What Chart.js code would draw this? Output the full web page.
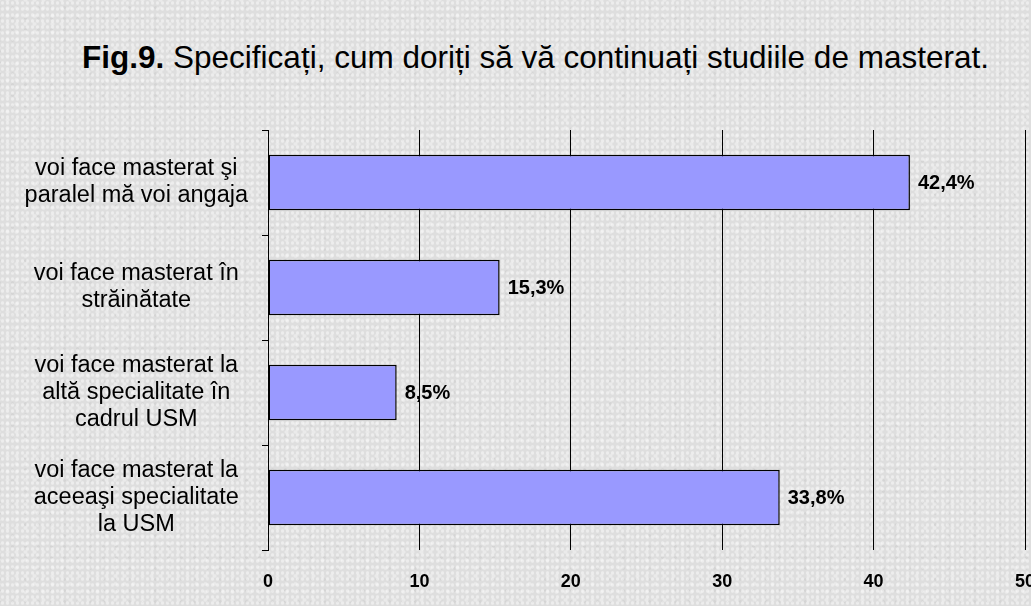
<!DOCTYPE html>
<html>
<head>
<meta charset="utf-8">
<script src="https://cdn.jsdelivr.net/npm/chart.js@4.4.1/dist/chart.umd.min.js"></script>
<style>
  html, body { margin: 0; padding: 0; overflow: hidden; }
  body {
    width: 1031px; height: 606px; position: relative;
    background-color: #dedede;
    background-image:
      radial-gradient(rgba(255,255,255,0.45) 1px, transparent 2px),
      radial-gradient(rgba(245,245,245,0.5) 1.5px, transparent 2.5px),
      radial-gradient(rgba(170,170,170,0.18) 1px, transparent 2px);
    background-size: 5px 6px, 9px 8px, 13px 11px;
    background-position: 0 0, 3px 4px, 6px 2px;
    font-family: "Liberation Sans", Arial, sans-serif;
  }
  #title {
    position: absolute; left: 0; top: 41px; width: 1071px;
    text-align: center; font-size: 31.5px; line-height: 32px; color: #000; white-space: nowrap;
  }
  #wrap { position: absolute; left: 0; top: 0; width: 1031px; height: 606px; }
</style>
</head>
<body>
<div id="title"><b>Fig.9.</b> Specificați, cum doriți să vă continuați studiile de masterat.</div>
<div id="wrap"><canvas id="chart" width="1031" height="606"></canvas></div>
<script>
// categories, top to bottom
const categories = [
  ['voi face masterat şi', 'paralel mă voi angaja'],
  ['voi face masterat în', 'străinătate'],
  ['voi face masterat la', 'altă specialitate în', 'cadrul USM'],
  ['voi face masterat la', 'aceeaşi specialitate', 'la USM']
];
const values = [42.4, 15.3, 8.5, 33.8];
const valueLabels = ['42,4%', '15,3%', '8,5%', '33,8%'];
const xTicks = [0, 10, 20, 30, 40, 50];

// draws the percentage next to each bar end
const barLabels = {
  id: 'barLabels',
  afterDatasetsDraw(chart) {
    const ctx = chart.ctx;
    const meta = chart.getDatasetMeta(0);
    ctx.save();
    ctx.font = 'bold 20px "Liberation Sans", Arial, sans-serif';
    ctx.fillStyle = '#000';
    ctx.textBaseline = 'middle';
    ctx.textAlign = 'left';
    meta.data.forEach((bar, i) => {
      ctx.fillText(valueLabels[i], bar.x + 8, bar.y + 1);
    });
    ctx.restore();
  }
};

new Chart(document.getElementById('chart'), {
  type: 'bar',
  data: {
    labels: categories,
    datasets: [{
      data: values,
      backgroundColor: '#9999ff',
      borderColor: '#000',
      borderWidth: 1.5,
      borderSkipped: false,
      barPercentage: 0.53,
      categoryPercentage: 1
    }]
  },
  options: {
    indexAxis: 'y',
    responsive: false,
    animation: false,
    layout: { padding: { top: 130, right: 6, left: 0, bottom: 0 } },
    plugins: {
      legend: { display: false },
      tooltip: { enabled: false },
      title: { display: false }
    },
    scales: {
      x: {
        min: 0,
        max: 50,
        afterBuildTicks(scale) {
          scale.ticks = xTicks.map(v => ({ value: v }));
        },
        afterFit(scale) {
          scale.height = 56;
          scale.paddingRight = 0;
          scale.paddingLeft = 0;
        },
        border: { display: false },
        grid: { color: '#000', lineWidth: 1, drawTicks: false },
        ticks: {
          color: '#000',
          padding: 21,
          font: { family: '"Liberation Sans", Arial, sans-serif', size: 18, weight: 'bold' }
        }
      },
      y: {
        afterFit(scale) {
          scale.width = 268;
        },
        border: { display: true, color: '#000', width: 1 },
        grid: {
          offset: true,
          drawOnChartArea: false,
          drawTicks: true,
          tickLength: 6,
          color: '#000'
        },
        ticks: {
          color: '#000',
          crossAlign: 'center',
          padding: 14,
          font: { family: '"Liberation Sans", Arial, sans-serif', size: 23.5, lineHeight: '27px' }
        }
      }
    }
  },
  plugins: [barLabels]
});
</script>
</body>
</html>
